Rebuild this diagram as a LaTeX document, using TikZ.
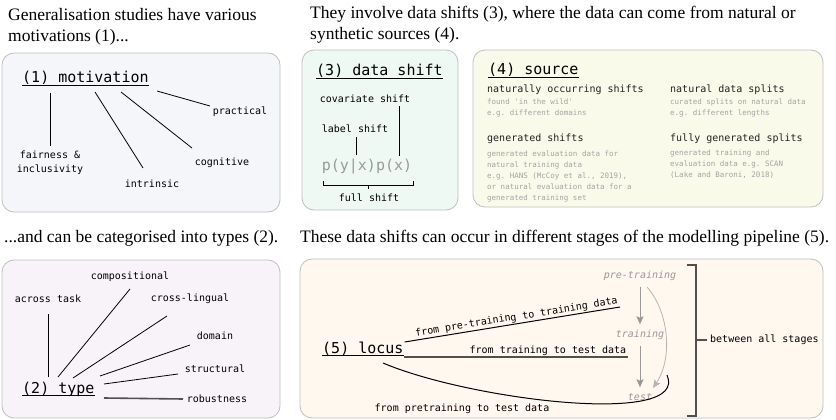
\documentclass[tikz,border=0pt]{standalone}
\usepackage{fontspec}
\setmainfont{Liberation Serif}
\setmonofont{DejaVu Sans Mono}
\usepackage{tikz}
\usetikzlibrary{arrows.meta,calc}

\definecolor{panelline}{HTML}{BFBFBF}
\definecolor{motfill}{HTML}{F5F6FA}
\definecolor{shiftfill}{HTML}{EEF9F3}
\definecolor{sourcefill}{HTML}{FAFAEB}
\definecolor{typefill}{HTML}{F7F3F9}
\definecolor{locusfill}{HTML}{FEF8EE}
\definecolor{notegray}{HTML}{A3A3A3}
\definecolor{stagegray}{HTML}{999999}
\definecolor{lightarrow}{HTML}{B5B5B5}
\definecolor{heavygray}{HTML}{505050}
\definecolor{headdark}{HTML}{222222}

\tikzset{
  panel/.style={draw=panelline, line width=0.8pt, rounded corners=12pt},
  caption/.style={anchor=north west, inner sep=0pt, align=left, font=\fontsize{17.5}{21}\selectfont},
  title/.style={anchor=base west, inner sep=0pt, font=\ttfamily\fontsize{15}{18}\selectfont},
  lbl/.style={inner sep=1pt, align=center, font=\ttfamily\fontsize{10}{14}\selectfont},
  head/.style={anchor=west, inner sep=0pt, text=headdark, font=\ttfamily\fontsize{10}{12}\selectfont},
  note/.style={anchor=north west, inner sep=0pt, align=left, text=notegray, font=\ttfamily\fontsize{7.5}{11}\selectfont},
  stage/.style={inner sep=1pt, text height=7.5pt, text depth=2.5pt, text=stagegray, font=\ttfamily\itshape\fontsize{10}{12}\selectfont},
  link/.style={draw=black, line width=0.8pt},
  heavy/.style={draw=heavygray, line width=1.6pt},
  flow/.style={draw=stagegray, line width=1pt, -{Stealth[length=8pt,width=7pt,inset=1.5pt]}, shorten <=4.5pt, shorten >=4.5pt}
}

\begin{document}
\begin{tikzpicture}[x=1pt,y=-1pt]

\useasboundingbox (0,0) rectangle (836,420);
\fill[white] (0,0) rectangle (836,420);

\draw[panel, fill=motfill] (2,53) rectangle (280,212);
\draw[panel, fill=shiftfill] (302,50) rectangle (458,210);
\draw[panel, fill=sourcefill] (473,50) rectangle (823,207);
\draw[panel, fill=typefill] (2,260) rectangle (280,418);
\draw[panel, fill=locusfill] (300,259) rectangle (823,418);

\node[caption] (capmot) at (8,8) {Generalisation studies have various\\motivations (1)...};
\node[caption] (capshift) at (310,6) {They involve data shifts (3), where the data can come from natural or\\synthetic sources (4).};
\node[caption] (captype) at (4,230) {...and can be categorised into types (2).};
\node[caption] (caplocus) at (300,230) {These data shifts can occur in different stages of the modelling pipeline (5).};

\node[title] (mot) at (22,83) {(1) motivation};
\draw[link] ([yshift=-2.5pt]mot.base west) -- ([yshift=-2.5pt]mot.base east);
\node[lbl] (fair) at (50,163) {fairness \&\\inclusivity};
\node[lbl] (intr) at (152,184) {intrinsic};
\node[lbl] (cogn) at (222,163) {cognitive};
\node[lbl] (prac) at (240,112) {practical};
\draw[link] ($(mot.base west)+(28,10)$) -- ($(fair)+(0,-17)$);
\draw[link] ($(mot.base west)+(73,9)$) -- ($(intr)+(-9,-16)$);
\draw[link] ($(mot.base west)+(99,9)$) -- ($(cogn)+(-30,-15)$);
\draw[link] ($(mot.base west)+(135,8)$) -- ($(prac)+(-30,-6)$);

\node[title] (shift) at (316,76) {(3) data shift};
\draw[link] ([yshift=-2.5pt]shift.base west) -- ([yshift=-2.5pt]shift.base east);
\node[lbl] (cov) at (365,99) {covariate shift};
\node[lbl] (lab) at (355,129) {label shift};
\node[lbl, text=stagegray, font=\ttfamily\fontsize{15}{18}\selectfont] (pyx) at (367,167) {p(y|x)p(x)};
\node[lbl] (full) at (369,198) {full shift};
\draw[link] ($(cov)+(34,7)$) -- ($(pyx)+(32,-11)$);
\draw[link] ($(lab)+(1,8)$) -- ($(pyx)+(-11,-12)$);
\draw[link] ($(pyx)+(-44,14)$) -- ++(0,4) -- ++(90,0) -- ++(0,-4);
\draw[link] ($(pyx)+(1,18)$) -- ++(0,4);

\node[title] (src) at (488,75) {(4) source};
\draw[link] ([yshift=-2.5pt]src.base west) -- ([yshift=-2.5pt]src.base east);
\node[head] (nat) at (487,90) {naturally occurring shifts};
\node[note] (natnote) at (487,98.5) {found 'in the wild'\\e.g. different domains};
\node[head] (spl) at (670,90) {natural data splits};
\node[note] (splnote) at (670,98.5) {curated splits on natural data\\e.g. different lengths};
\node[head] (gen) at (487,139) {generated shifts};
\node[note] (gennote) at (487,150.5) {generated evaluation data for\\natural training data\\e.g. HANS (McCoy et al., 2019),\\or natural evaluation data for a\\generated training set};
\node[head] (fgs) at (670,139) {fully generated splits};
\node[note] (fgsnote) at (670,149.5) {generated training and\\evaluation data e.g. SCAN\\(Lake and Baroni, 2018)};

\node[title] (typ) at (22,393) {(2) type};
\draw[link] ([yshift=-2.5pt]typ.base west) -- ([yshift=-2.5pt]typ.base east);
\node[lbl] (acr) at (48,299) {across task};
\node[lbl] (comp) at (130,277) {compositional};
\node[lbl] (cross) at (190,299) {cross-lingual};
\node[lbl] (dom) at (215,336) {domain};
\node[lbl] (struc) at (215,369) {structural};
\node[lbl] (rob) at (217,399) {robustness};
\draw[link] ($(acr)+(0,15)$) -- ($(typ.base west)+(26,-16)$);
\draw[link] ($(comp)+(0,12)$) -- ($(typ.base west)+(36,-16)$);
\draw[link] ($(cross)+(-23,17)$) -- ($(typ.base west)+(51,-15)$);
\draw[link] ($(dom)+(-25,9)$) -- ($(typ.base west)+(78,-17)$);
\draw[link] ($(struc)+(-37,5)$) -- ($(typ.base west)+(82,-9)$);
\draw[heavy] ($(rob)+(-34,0)$) -- ($(typ.base west)+(82,5)$);

\node[title] (loc) at (322,353) {(5) locus};
\draw[link] ([yshift=-2.5pt]loc.base west) -- ([yshift=-2.5pt]loc.base east);
\node[stage] (pre) at (640,276) {pre-training};
\node[stage] (trn) at (640,335) {training};
\node[stage] (tst) at (640,398) {test};
\draw[flow] (pre) -- (trn);
\draw[flow] (trn) -- (tst);
\draw[flow, draw=lightarrow, line width=0.8pt, shorten <=0pt, shorten >=0pt] ($(pre)+(7,11)$) .. controls +(22,25) and +(20,-30) .. ($(tst)+(13,-10)$);

\coordinate (ptdend) at (620,307);
\coordinate (ttdend) at (628,357);
\draw[link, line width=1pt] ($(loc.base east)+(1,-11)$) -- (ptdend) node[lbl, sloped, pos=1, anchor=south east] (ptdlbl) {from pre-training to training data};
\draw[heavy] ($(loc.base east)+(0,4)$) -- (ttdend) node[lbl, pos=1, anchor=south east] (ttdlbl) {from training to test data};
\draw[link, line width=1pt] ($(loc.base west)+(61,10)$) .. controls +(87,37) and +(23,52) .. ($(tst)+(27,-23)$);
\node[lbl] (pttd) at (462,409) {from pretraining to test data};

\node[lbl, anchor=west] (bas) at (709,340) {between all stages};
\draw[heavy] ($(bas.west)+(-2,0)$) -- ++(-11,0);
\draw[heavy] ($(bas.west)+(-22,-75)$) -- ++(9,0) -- ++(0,151) -- ++(-9,0);

\end{tikzpicture}
\end{document}
